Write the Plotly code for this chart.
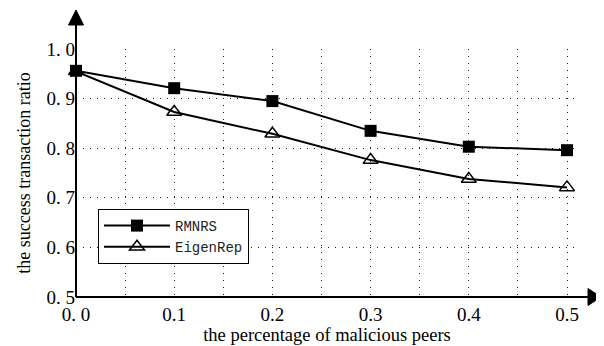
import plotly.graph_objects as go

x_vals = [0.0, 0.1, 0.2, 0.3, 0.4, 0.5]
rmnrs = [0.956, 0.921, 0.895, 0.835, 0.803, 0.796]
eigenrep = [0.955, 0.873, 0.829, 0.776, 0.738, 0.721]
x_tick_vals = [0.0, 0.1, 0.2, 0.3, 0.4, 0.5]
x_tick_text = ["0. 0", "0.1", "0.2", "0.3", "0.4", "0.5"]
y_tick_vals = [0.5, 0.6, 0.7, 0.8, 0.9, 1.0]
y_tick_text = ["0. 5", "0. 6", "0. 7", "0. 8", "0. 9", "1. 0"]

serif = "Liberation Serif, DejaVu Serif, serif"

# the page places the figure 8px from the top-left corner (default body margin)
OFF = 8
W, H = 604 - OFF, 346 - OFF
# target positions in window pixels
L_, R_, T_, B_ = 76, 578, 49, 297
ML, MR, MT, MB = L_ - OFF, (604 - R_), T_ - OFF, (346 - B_)
PW, PH = W - ML - MR, H - MT - MB


def px(xw):
    return (xw - L_) / PW


def py(yw):
    return (B_ - yw) / PH


fig = go.Figure()
fig.add_trace(go.Scatter(
    x=x_vals, y=rmnrs, mode="lines+markers", name="RMNRS",
    line=dict(color="black", width=2),
    marker=dict(symbol="square", size=12, color="black"),
    cliponaxis=False,
))
fig.add_trace(go.Scatter(
    x=x_vals, y=eigenrep, mode="lines+markers", name="EigenRep",
    line=dict(color="black", width=2),
    marker=dict(symbol="triangle-up-open", size=13, color="black", line=dict(width=1.5)),
    cliponaxis=False,
))

grid_dash = "1px,6px"
fig.update_layout(
    width=W, height=H,
    margin=dict(l=ML, r=MR, t=MT, b=MB),
    paper_bgcolor="white", plot_bgcolor="white",
    showlegend=True,
    legend=dict(
        x=px(98), y=py(209), xanchor="left", yanchor="top",
        bordercolor="black", borderwidth=1, bgcolor="white",
        font=dict(family="Liberation Mono, DejaVu Sans Mono, monospace", size=14, color="#222"),
        itemwidth=66, tracegroupgap=0,
    ),
    xaxis=dict(
        range=[0, 0.5 + (R_ - 567) / 982], tickvals=x_tick_vals, ticktext=x_tick_text,
        showgrid=True, gridcolor="#222", griddash=grid_dash, gridwidth=1,
        minor=dict(dtick=0.05, tick0=0, showgrid=True, gridcolor="#222", griddash=grid_dash, gridwidth=1),
        zeroline=False, showline=False, ticks="", automargin=False,
        ticklabelstandoff=4,
        tickfont=dict(family=serif, size=19, color="black"),
        title=dict(text="the percentage of malicious peers", font=dict(family=serif, size=18.5, color="black"), standoff=4),
    ),
    yaxis=dict(
        range=[0.5, 1.0], tickvals=y_tick_vals, ticktext=y_tick_text,
        showgrid=True, gridcolor="#222", griddash=grid_dash, gridwidth=1,
        zeroline=False, showline=False, ticks="", automargin=False,
        tickfont=dict(family=serif, size=19, color="black"),
        title=dict(text="the success transaction ratio", font=dict(family=serif, size=18, color="black"), standoff=11),
    ),
)

# axis lines with arrow heads (decoration, in paper coordinates)
fig.add_shape(type="line", xref="paper", yref="paper", x0=0, y0=0, x1=0, y1=py(24),
              line=dict(color="black", width=2))
fig.add_shape(type="line", xref="paper", yref="paper", x0=0, y0=0, x1=px(589), y1=0,
              line=dict(color="black", width=2))
fig.add_shape(type="path", xref="paper", yref="paper",
              path=f"M{px(76)},{py(10)} L{px(68.5)},{py(25)} L{px(83.5)},{py(25)} Z",
              fillcolor="black", line=dict(color="black", width=1))
fig.add_shape(type="path", xref="paper", yref="paper",
              path=f"M{px(601)},{py(297)} L{px(588)},{py(288.5)} L{px(588)},{py(305.5)} Z",
              fillcolor="black", line=dict(color="black", width=1))

fig.write_html("out.html")
